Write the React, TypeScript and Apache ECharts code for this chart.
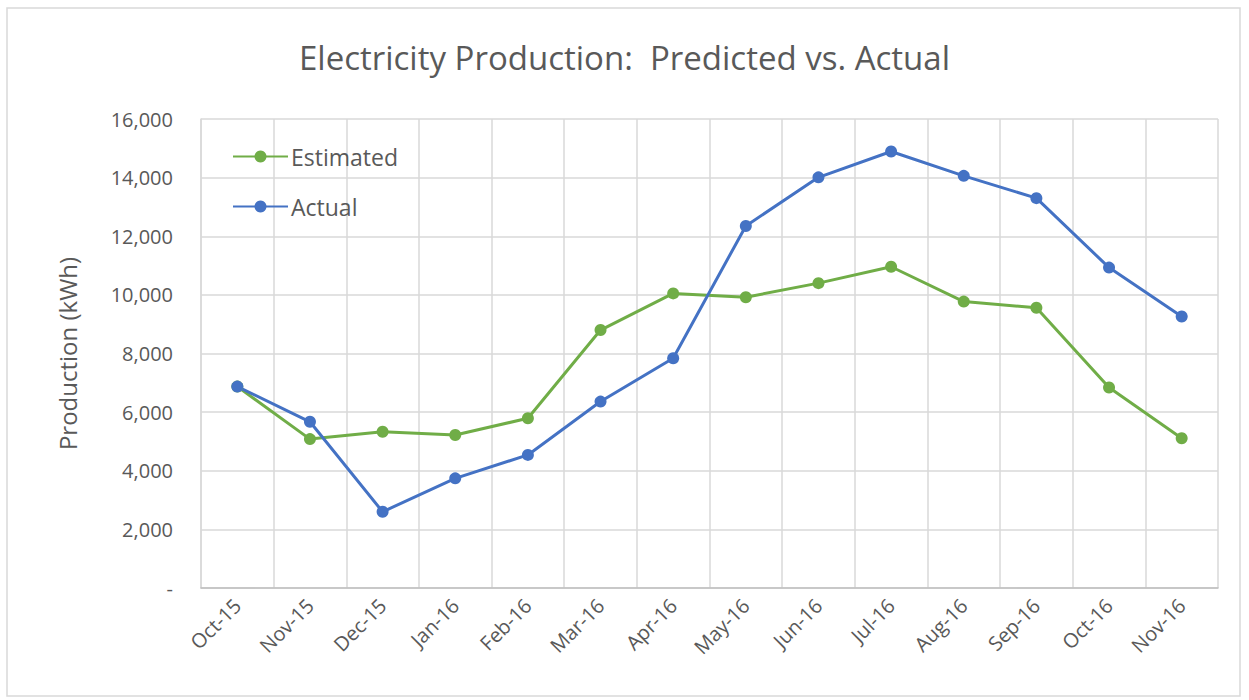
import React, { useEffect, useRef } from "react";
import * as echarts from "echarts";

const categories = [
  "Oct-15", "Nov-15", "Dec-15", "Jan-16", "Feb-16", "Mar-16", "Apr-16",
  "May-16", "Jun-16", "Jul-16", "Aug-16", "Sep-16", "Oct-16", "Nov-16",
];
const estimated = [6870, 5080, 5330, 5220, 5790, 8800, 10050, 9920, 10400, 10960, 9770, 9560, 6840, 5110];
const actual = [6870, 5670, 2600, 3740, 4540, 6360, 7840, 12350, 14010, 14890, 14060, 13300, 10930, 9260];
const titleText = "Electricity Production:  Predicted vs. Actual";
const yAxisName = "Production (kWh)";

const FONT = "'Open Sans', 'DejaVu Sans', sans-serif";
const TEXT = "#595959";
const GREEN = "#70AD47";
const BLUE = "#4472C4";

export default function App() {
  const ref = useRef<HTMLDivElement>(null);
  useEffect(() => {
    if (!ref.current) return;
    const chart = echarts.init(ref.current, undefined, { renderer: "svg" });
    chart.setOption({
      animation: false,
      backgroundColor: "#ffffff",
      textStyle: { fontFamily: FONT },
      title: {
        text: titleText,
        left: "center",
        top: 36,
        textStyle: { fontFamily: FONT, fontSize: 33, fontWeight: "normal", color: TEXT },
      },
      graphic: [
        {
          type: "rect",
          shape: { x: 7, y: 8, width: 1233, height: 688 },
          style: { fill: "none", stroke: "#d9d9d9", lineWidth: 1.5 },
          silent: true,
        },
      ],
      legend: {
        orient: "vertical",
        left: 232,
        top: 145,
        padding: 0,
        itemGap: 27,
        itemWidth: 55,
        itemHeight: 15,
        textStyle: { fontFamily: FONT, fontSize: 23, color: TEXT, padding: [0, 0, 0, -2] },
        data: ["Estimated", "Actual"],
      },
      grid: { left: 201, top: 119, right: 31, bottom: 112 },
      xAxis: {
        type: "category",
        data: categories,
        boundaryGap: true,
        axisLine: { show: true, lineStyle: { color: "#bfbfbf", width: 1.5 } },
        axisTick: { show: false },
        splitLine: { show: true, lineStyle: { color: "#d9d9d9", width: 1.5 } },
        axisLabel: { rotate: 45, fontSize: 20, color: TEXT, fontFamily: FONT, margin: 14, interval: 0 },
      },
      yAxis: {
        type: "value",
        min: 0,
        max: 16000,
        interval: 2000,
        name: yAxisName,
        nameLocation: "middle",
        nameGap: 122,
        nameTextStyle: { fontSize: 24, color: TEXT, fontFamily: FONT },
        axisLine: { show: true, lineStyle: { color: "#d9d9d9", width: 1.5 } },
        axisTick: { show: false },
        splitLine: { show: true, lineStyle: { color: "#d9d9d9", width: 1.5 } },
        axisLabel: {
          fontSize: 20,
          color: TEXT,
          fontFamily: FONT,
          margin: 28,
          formatter: (v: number) => (v === 0 ? "-" : v.toLocaleString("en-US")),
        },
      },
      series: [
        {
          name: "Estimated",
          type: "line",
          data: estimated,
          symbol: "circle",
          symbolSize: 12,
          lineStyle: { color: GREEN, width: 3 },
          itemStyle: { color: GREEN },
        },
        {
          name: "Actual",
          type: "line",
          data: actual,
          symbol: "circle",
          symbolSize: 12,
          lineStyle: { color: BLUE, width: 3 },
          itemStyle: { color: BLUE },
        },
      ],
    });
    return () => chart.dispose();
  }, []);
  return (
    <div
      ref={ref}
      style={{ position: "absolute", left: 0, top: 0, width: 1249, height: 700 }}
    />
  );
}
